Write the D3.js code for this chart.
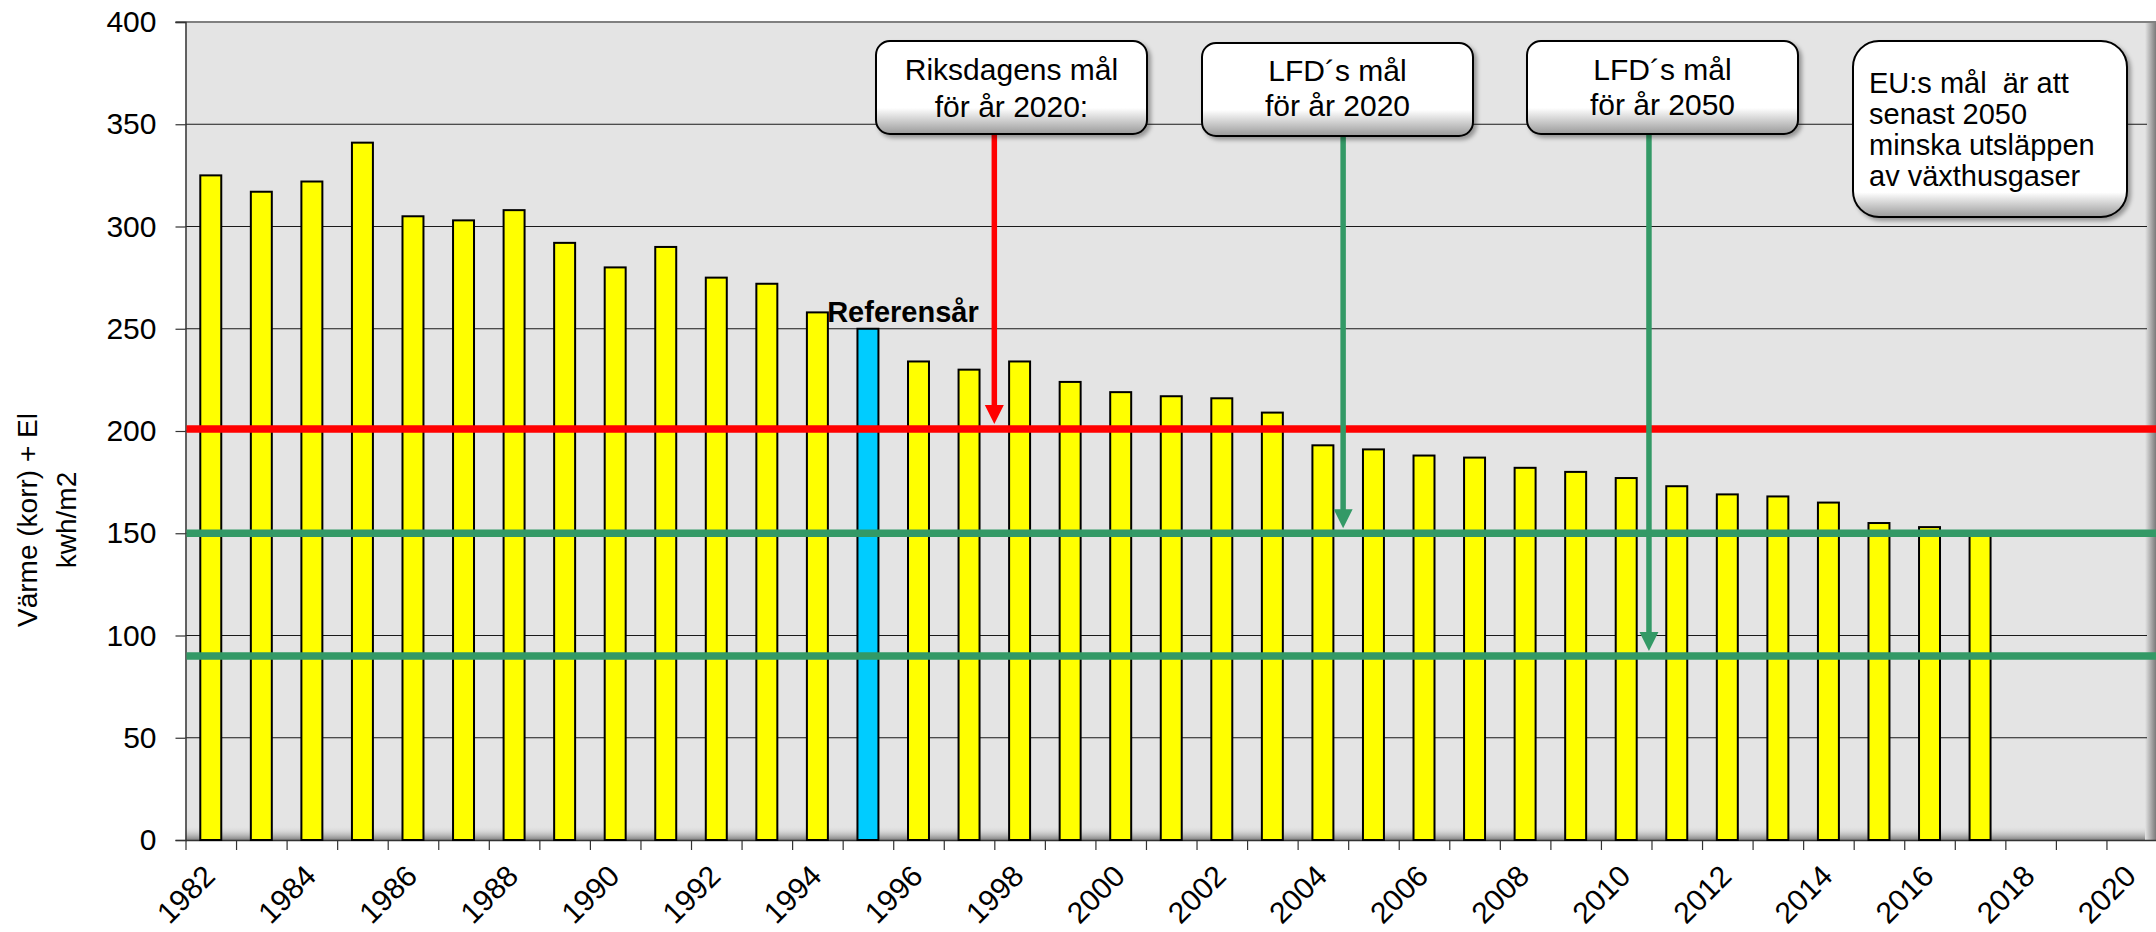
<!DOCTYPE html>
<html>
<head>
<meta charset="utf-8">
<script src="https://cdn.jsdelivr.net/npm/d3@7"></script>
<style>
  body { margin: 0; background: #fff; }
  text { font-family: "Liberation Sans", Arial, sans-serif; fill: #000; }
</style>
</head>
<body>
<div id="chart"></div>
<script>
// categories (x axis) - 1982..2020, bars only up to 2017
const years = ["1982","1983","1984","1985","1986","1987","1988","1989","1990","1991",
  "1992","1993","1994","1995","1996","1997","1998","1999","2000","2001",
  "2002","2003","2004","2005","2006","2007","2008","2009","2010","2011",
  "2012","2013","2014","2015","2016","2017","2018","2019","2020"];

// Värme (korr) + El, kwh/m2
const values = [325, 317, 322, 341, 305, 303, 308, 292, 280, 290,
  275, 272, 258, 250, 234, 230, 234, 224, 219, 217,
  216, 209, 193, 191, 188, 187, 182, 180, 177, 173,
  169, 168, 165, 155, 153, 150];

const referenceYear = "1995";
const referenceLabel = "Referensår";

// target lines
const targetValues = [201, 150, 90];
const targetColors = ["#ff0000", "#339966", "#339966"];

// y ticks
const yTicks = [0, 50, 100, 150, 200, 250, 300, 350, 400];

// annotation boxes
const boxTexts = [
  ["Riksdagens mål", "för år 2020:"],
  ["LFD´s mål", "för år 2020"],
  ["LFD´s mål", "för år 2050"],
  ["EU:s mål  är att", "senast 2050", "minska utsläppen", "av växthusgaser"]
];
// arrows: position in year units, pointing down to a target line
const arrowYears = [1997.5, 2004.4, 2010.45];
const arrowTargets = [201, 150, 90];

const width = 2156, height = 932;
const plotLeft = 185.5, plotRight = 2157, plotTop = 22, plotBottom = 840;

const svg = d3.select("#chart").append("svg")
  .attr("width", width)
  .attr("height", height);

const defs = svg.append("defs");

const boxGrad = defs.append("linearGradient")
  .attr("id", "boxGrad").attr("x1", 0).attr("y1", 0).attr("x2", 0).attr("y2", 1);
boxGrad.append("stop").attr("offset", "0%").attr("stop-color", "#ffffff");
boxGrad.append("stop").attr("offset", "72%").attr("stop-color", "#ffffff");
boxGrad.append("stop").attr("offset", "100%").attr("stop-color", "#9a9a9a");

const boxGrad2 = defs.append("linearGradient")
  .attr("id", "boxGrad2").attr("x1", 0).attr("y1", 0).attr("x2", 0).attr("y2", 1);
boxGrad2.append("stop").attr("offset", "0%").attr("stop-color", "#ffffff");
boxGrad2.append("stop").attr("offset", "86%").attr("stop-color", "#ffffff");
boxGrad2.append("stop").attr("offset", "100%").attr("stop-color", "#9a9a9a");

const rightShade = defs.append("linearGradient")
  .attr("id", "rightShade").attr("x1", 0).attr("y1", 0).attr("x2", 1).attr("y2", 0);
rightShade.append("stop").attr("offset", "0%").attr("stop-color", "#e4e4e4");
rightShade.append("stop").attr("offset", "100%").attr("stop-color", "#7a7a7a");

const bottomShade = defs.append("linearGradient")
  .attr("id", "bottomShade").attr("x1", 0).attr("y1", 0).attr("x2", 0).attr("y2", 1);
bottomShade.append("stop").attr("offset", "0%").attr("stop-color", "#e4e4e4").attr("stop-opacity", 0);
bottomShade.append("stop").attr("offset", "100%").attr("stop-color", "#808080");

const shadow = defs.append("filter").attr("id", "shadow")
  .attr("x", "-10%").attr("y", "-10%").attr("width", "130%").attr("height", "140%");
shadow.append("feDropShadow")
  .attr("dx", 3).attr("dy", 3).attr("stdDeviation", 2)
  .attr("flood-color", "#000").attr("flood-opacity", 0.35);

// scales
const x = d3.scaleBand()
  .domain(years)
  .range([plotLeft, plotRight])
  .paddingInner(0.585)
  .paddingOuter(0.2925);

const xYear = d3.scaleLinear()
  .domain([1981.5, 2020.5])
  .range([plotLeft, plotRight]);

const y = d3.scaleLinear()
  .domain([0, 400])
  .range([plotBottom, plotTop]);

// plot area background
svg.append("rect")
  .attr("x", plotLeft).attr("y", plotTop)
  .attr("width", plotRight - plotLeft).attr("height", plotBottom - plotTop)
  .attr("fill", "#e4e4e4");

svg.append("rect")
  .attr("x", plotLeft).attr("y", plotBottom - 14)
  .attr("width", 2147 - plotLeft).attr("height", 14)
  .attr("fill", "url(#bottomShade)");

svg.append("rect")
  .attr("x", 2145).attr("y", plotTop)
  .attr("width", 11).attr("height", plotBottom - plotTop)
  .attr("fill", "url(#rightShade)");

// gridlines
svg.append("g")
  .selectAll("line")
  .data(yTicks.filter(d => d > 0 && d < 400))
  .enter()
  .append("line")
  .attr("x1", plotLeft).attr("x2", 2147)
  .attr("y1", d => y(d)).attr("y2", d => y(d))
  .attr("stroke", "#1a1a1a")
  .attr("stroke-width", 1);

// top border
svg.append("line")
  .attr("x1", plotLeft - 10).attr("x2", width)
  .attr("y1", y(400)).attr("y2", y(400))
  .attr("stroke", "#808080")
  .attr("stroke-width", 2);

// y axis
const yAxis = svg.append("g")
  .attr("transform", `translate(${plotLeft}, 0)`)
  .call(d3.axisLeft(y).tickValues(yTicks).tickSize(10).tickPadding(19));
yAxis.select(".domain").attr("stroke", "#333").attr("stroke-width", 1.5);
yAxis.selectAll(".tick line").attr("stroke", "#333").attr("stroke-width", 1.2);
yAxis.selectAll(".tick text")
  .style("font-size", "30px")
  .style("font-family", "\"Liberation Sans\", Arial, sans-serif")
  .attr("fill", "#000");

// x axis - ticks between categories
const xAxis = svg.append("g")
  .attr("transform", `translate(0, ${plotBottom})`)
  .call(d3.axisBottom(xYear)
    .tickValues(d3.range(1981.5, 2021, 1))
    .tickFormat("")
    .tickSize(10)
    .tickSizeOuter(0));
xAxis.select(".domain").attr("stroke", "#333").attr("stroke-width", 1.5);
xAxis.selectAll(".tick line").attr("stroke", "#333").attr("stroke-width", 1.2);

svg.append("g")
  .selectAll("text")
  .data(years.filter((d, i) => i % 2 === 0))
  .enter()
  .append("text")
  .attr("transform", d => `translate(${x(d) + x.bandwidth() / 2 + 6}, 878) rotate(-45)`)
  .attr("text-anchor", "end")
  .style("font-size", "30px")
  .text(d => d);

// bars
const barData = values.map((v, i) => ({ year: years[i], value: v }));

svg.append("g")
  .selectAll("rect")
  .data(barData)
  .enter()
  .append("rect")
  .attr("x", d => x(d.year))
  .attr("y", d => y(d.value))
  .attr("width", x.bandwidth())
  .attr("height", d => y(0) - y(d.value))
  .attr("fill", d => d.year === referenceYear ? "#00ccff" : "#ffff00")
  .attr("stroke", "#000")
  .attr("stroke-width", 2);

// reference label
const refBar = barData.find(d => d.year === referenceYear);
svg.append("text")
  .attr("x", x(refBar.year) + x.bandwidth() / 2 + 35)
  .attr("y", y(refBar.value) - 7)
  .attr("text-anchor", "middle")
  .style("font-size", "29px")
  .style("font-weight", "bold")
  .text(referenceLabel);

// target lines
svg.append("g")
  .selectAll("line")
  .data(targetValues)
  .enter()
  .append("line")
  .attr("x1", plotLeft + 1).attr("x2", width)
  .attr("y1", d => y(d)).attr("y2", d => y(d))
  .attr("stroke", (d, i) => targetColors[i])
  .attr("stroke-width", 7.5);

// annotation boxes
const boxLayout = [
  { x: 876, y: 41, w: 271, h: 93, rx: 14, cx: 1011.5, lineY: [80, 117], size: 30, anchor: "middle", grad: "boxGrad" },
  { x: 1202, y: 43, w: 271, h: 93, rx: 14, cx: 1337.5, lineY: [81, 116], size: 30, anchor: "middle", grad: "boxGrad" },
  { x: 1527, y: 41, w: 271, h: 93, rx: 14, cx: 1662.5, lineY: [80, 115], size: 30, anchor: "middle", grad: "boxGrad" },
  { x: 1853, y: 41, w: 274, h: 176, rx: 26, cx: 1869, lineY: [93, 124, 155, 186], size: 29, anchor: "start", grad: "boxGrad2" }
];

// arrows (drawn before the boxes so they start under the box edge)
const arrowColors = ["#ff0000", "#339966", "#339966"];
const arrowStart = [134, 136, 134];
const headLen = 19, headW = 19;

arrowYears.forEach((yr, i) => {
  const ax = xYear(yr);
  const tip = y(arrowTargets[i]) - 5;
  svg.append("line")
    .attr("x1", ax).attr("x2", ax)
    .attr("y1", arrowStart[i]).attr("y2", tip - headLen + 2)
    .attr("stroke", arrowColors[i])
    .attr("stroke-width", 5.5);
  svg.append("path")
    .attr("d", `M${ax - headW / 2},${tip - headLen} L${ax + headW / 2},${tip - headLen} L${ax},${tip} Z`)
    .attr("fill", arrowColors[i]);
});

boxLayout.forEach((b, i) => {
  const g = svg.append("g");
  g.append("rect")
    .attr("x", b.x).attr("y", b.y)
    .attr("width", b.w).attr("height", b.h)
    .attr("rx", b.rx).attr("ry", b.rx)
    .attr("fill", `url(#${b.grad})`)
    .attr("stroke", "#000")
    .attr("stroke-width", 2)
    .attr("filter", "url(#shadow)");
  g.selectAll("text")
    .data(boxTexts[i])
    .enter()
    .append("text")
    .attr("x", b.cx)
    .attr("y", (d, j) => b.lineY[j])
    .attr("text-anchor", b.anchor)
    .style("font-size", b.size + "px")
    .style("white-space", "pre")
    .text(d => d);
});

// y axis title
const yTitle = svg.append("g")
  .attr("transform", "translate(0, 520)");
yTitle.append("text")
  .attr("transform", "translate(37, 0) rotate(-90)")
  .attr("text-anchor", "middle")
  .style("font-size", "28px")
  .text("Värme (korr) + El");
yTitle.append("text")
  .attr("transform", "translate(76, 0) rotate(-90)")
  .attr("text-anchor", "middle")
  .style("font-size", "28px")
  .text("kwh/m2");
</script>
</body>
</html>
